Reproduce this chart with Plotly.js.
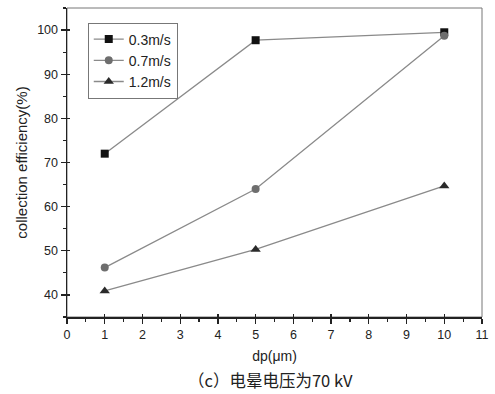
<!DOCTYPE html>
<html><head><meta charset="utf-8">
<script src="https://cdn.plot.ly/plotly-3.0.1.min.js"></script>
<style>html,body{margin:0;padding:0;background:#fff}#c{width:495px;height:394px}</style>
</head><body><div id="c"></div>
<script>
const dp = [1, 5, 10];
const seriesNames = ['0.3m/s', '0.7m/s', '1.2m/s'];
const eff03 = [72.0, 97.7, 99.5];
const eff07 = [46.2, 64.0, 98.7];
const eff12 = [40.9, 50.3, 64.7];
const xTickVals = [0,1,2,3,4,5,6,7,8,9,10,11];
const yTickVals = [40,50,60,70,80,90,100];
const xRange = [0, 11];
const yRange = [35, 105];

const lineColor = '#8a8a8a';
const mk = [
  {symbol:'square', color:'#111', size:8},
  {symbol:'circle', color:'#6e6e6e', size:8},
  {symbol:'triangle-up', color:'#2a2a2a', size:9}
];
const ys = [eff03, eff07, eff12];
const traces = ys.map((y,i)=>({
  x: dp, y: y, name: seriesNames[i], type:'scatter', mode:'lines+markers',
  line:{color:lineColor, width:1.3},
  marker:{symbol:mk[i].symbol, color:mk[i].color, size:mk[i].size}
}));
// empty helper trace for the inside-tick overlay axes
traces.push({x:[], y:[], xaxis:'x2', yaxis:'y2', showlegend:false, hoverinfo:'skip', type:'scatter', mode:'markers'});

const font = {family:'Liberation Sans, Arial, sans-serif', size:12, color:'#222'};
const layout = {
  width:495, height:394,
  margin:{l:67, r:13, t:8, b:77},
  paper_bgcolor:'#fff', plot_bgcolor:'#fff',
  font: font,
  showlegend:true,
  legend:{x:0.05, y:0.953, xanchor:'left', yanchor:'top', bgcolor:'#fff',
    bordercolor:'#777', borderwidth:1, font:{family:font.family, size:14, color:'#222'},
    tracegroupgap:0, itemwidth:30},
  xaxis:{range:xRange, tickvals:xTickVals, ticks:'outside', ticklen:5, tickwidth:1.2,
    tickcolor:'#222', showline:true, linecolor:'#222', linewidth:1.5, showgrid:false, zeroline:false,
    minor:{ticks:'outside', ticklen:3, dtick:0.5, tickcolor:'#222', showgrid:false},
    tickfont:{size:12.5}, title:{text:'dp(μm)', font:{size:14}, standoff:10}},
  yaxis:{range:yRange, tickvals:yTickVals, ticks:'outside', ticklen:5, tickwidth:1.2,
    tickcolor:'#222', showline:true, linecolor:'#222', linewidth:1.5, showgrid:false, zeroline:false,
    minor:{ticks:'outside', ticklen:3, dtick:5, tickcolor:'#222', showgrid:false},
    tickfont:{size:12.5}, title:{text:'collection efficiency(%)', font:{size:15}, standoff:6}},
  xaxis2:{range:xRange, overlaying:'x', anchor:'y2', side:'bottom', tickvals:xTickVals,
    ticks:'inside', ticklen:3, tickwidth:1.2, tickcolor:'#222', showticklabels:false,
    showline:false, showgrid:false, zeroline:false},
  yaxis2:{range:yRange, overlaying:'y', anchor:'x2', side:'left', tickvals:yTickVals,
    ticks:'inside', ticklen:3, tickwidth:1.2, tickcolor:'#222', showticklabels:false,
    showline:false, showgrid:false, zeroline:false},
  shapes:[{type:'rect', xref:'paper', yref:'paper', x0:0, x1:1, y0:0, y1:1,
    line:{color:'#777', width:1}, layer:'below'}],
  annotations:[{text:'（c）电晕电压为70 kV', xref:'paper', yref:'paper', x:0.49, y:-0.205,
    xanchor:'center', yanchor:'middle', showarrow:false,
    font:{family:'Noto Sans CJK SC, sans-serif', size:16.5, color:'#222'}}]
};
Plotly.newPlot('c', traces, layout, {displayModeBar:false, staticPlot:true});
</script></body></html>
